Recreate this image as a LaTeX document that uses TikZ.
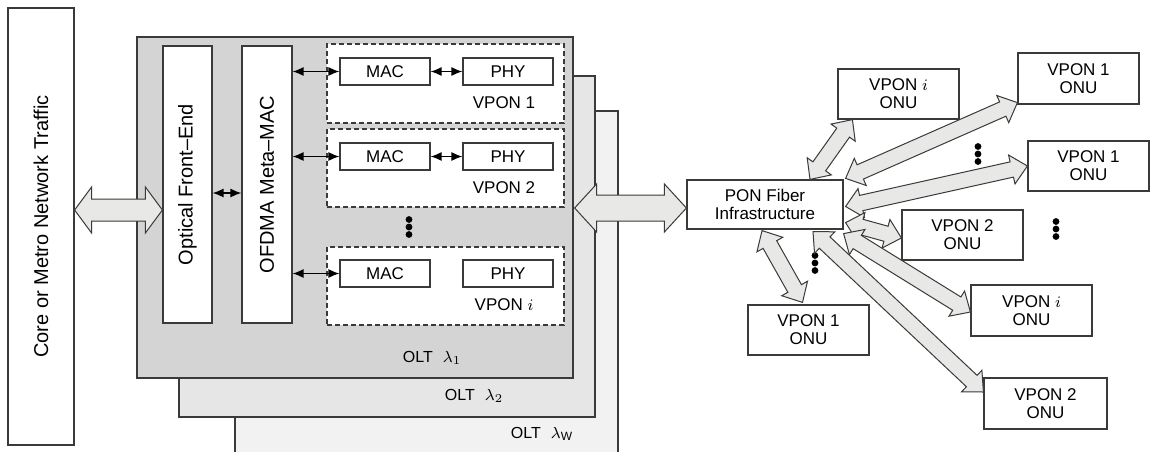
\documentclass[tikz,border=0pt]{standalone}
\usepackage{fontspec}
\setmainfont{Liberation Sans}
\usetikzlibrary{calc,arrows.meta}
\definecolor{edge}{HTML}{3A3A3A}
\definecolor{oltA}{HTML}{D4D4D4}
\definecolor{oltB}{HTML}{E6E6E6}
\definecolor{oltC}{HTML}{F2F2F2}
\definecolor{arrowfill}{HTML}{E8E8E6}
\newcommand\fatarrow[5]{%
  \coordinate (fa) at #1; \coordinate (fb) at #2;
  \draw[fat] (fa) -- ($(fa)!#3!(fb)!#4!90:(fb)$) -- ($(fa)!#3!(fb)!#5!90:(fb)$)
    -- ($(fb)!#3!(fa)!#5!-90:(fa)$) -- ($(fb)!#3!(fa)!#4!-90:(fa)$) -- (fb)
    -- ($(fb)!#3!(fa)!#4!90:(fa)$) -- ($(fb)!#3!(fa)!#5!90:(fa)$)
    -- ($(fa)!#3!(fb)!#5!-90:(fb)$) -- ($(fa)!#3!(fb)!#4!-90:(fb)$) -- cycle;}
\newcommand\threedots[1]{%
  \fill[black] ($#1+(0,-7.5)$) circle (1.7pt) #1 circle (1.7pt) ($#1+(0,7.5)$) circle (1.7pt);}
\tikzset{
  box/.style={draw=edge, line width=0.6pt, fill=white, inner sep=0pt},
  sz/.style 2 args={minimum width=#1*0.5pt, minimum height=#2*0.5pt},
  fat/.style={draw=edge, line width=0.5pt, fill=arrowfill},
  small/.style={{Latex[length=5.5pt,width=4.5pt]}-{Latex[length=5.5pt,width=4.5pt]}, line width=0.65pt, black},
  lbl/.style={font=\fontsize{8.5}{9}\selectfont, align=center, inner sep=0pt},
  big/.style={font=\fontsize{10}{12}\selectfont, inner sep=0pt},
  oltlbl/.style={font=\fontsize{8}{9}\selectfont, inner sep=0pt},
  vbox/.style={draw=edge, line width=0.6pt, fill=white, dash pattern=on 2.5pt off 1.5pt, inner sep=0pt}
}
\begin{document}
\begin{tikzpicture}[x=0.5pt,y=-0.5pt]
\useasboundingbox (0,0) rectangle (1150,451);
\fill[white] (0,0) rectangle (1150,451);

% core
\node[box, sz={66}{437}] (core) at (41,226.5) {};
\node[big, rotate=90] (coretxt) at (core.center) {Core or Metro Network Traffic};

% OLT stack
\node[box, fill=oltC, sz={383}{360}] (oltW) at (426.5,291) {};
\node[box, fill=oltB, sz={416}{341}] (olt2) at (387,246.5) {};
\node[box, fill=oltA, sz={436}{341}] (olt1) at (355,207.5) {};
\node[oltlbl] (l1) at (432,358) {OLT\hspace{5pt}$\lambda_1$};
\node[oltlbl] (l2) at (474,396) {OLT\hspace{5pt}$\lambda_2$};
\node[oltlbl] (lw) at (542,434) {OLT\hspace{5pt}$\lambda_{\mathrm{W}}$};

\node[box, sz={49}{277}] (ofe) at (187.5,184.5) {};
\node[big, rotate=90] (ofetxt) at (ofe.center) {Optical Front–End};
\node[box, sz={50}{277}] (meta) at (267,184.5) {};
\node[big, rotate=90] (metatxt) at (meta.center) {OFDMA Meta–MAC};

% VPON blocks
\node[vbox, sz={237}{79}] (v1) at (445.5,83.5) {};
\node[vbox, sz={237}{78}] (v2) at (445.5,168) {};
\node[vbox, sz={237}{78}] (vi) at (445.5,286) {};
\threedots{(409,227)}

\node[box, sz={90}{27}, lbl] (mac1) at (385,71.5) {MAC};
\node[box, sz={90}{27}, lbl] (phy1) at (508,71.5) {PHY};
\node[lbl] (t1) at (504,103) {VPON 1};
\node[box, sz={90}{27}, lbl] (mac2) at (385,156.5) {MAC};
\node[box, sz={90}{27}, lbl] (phy2) at (508,156.5) {PHY};
\node[lbl] (t2) at (504,188) {VPON 2};
\node[box, sz={90}{27}, lbl] (maci) at (385,273.5) {MAC};
\node[box, sz={90}{27}, lbl] (phyi) at (508,273.5) {PHY};
\node[lbl] (ti) at (504,305) {VPON $i$};

\draw[small] (ofe.east |- 0,193) -- (meta.west |- 0,193);
\draw[small] (meta.east |- mac1.west) -- (mac1.west);
\draw[small] (meta.east |- mac2.west) -- (mac2.west);
\draw[small] (meta.east |- maci.west) -- (maci.west);
\draw[small] (mac1.east) -- (phy1.west);
\draw[small] (mac2.east) -- (phy2.west);

% PON side
\node[box, sz={156}{49}, lbl] (pon) at (765,204.5) {PON Fiber\\Infrastructure};
\node[box, sz={121}{50}, lbl] (onuI1) at (898.5,94) {VPON $i$\\ONU};
\node[box, sz={121}{51}, lbl] (onu1a) at (1078.5,78.5) {VPON 1\\ONU};
\node[box, sz={121}{50}, lbl] (onu1b) at (1088.5,166) {VPON 1\\ONU};
\node[box, sz={121}{50}, lbl] (onu2a) at (962.5,235) {VPON 2\\ONU};
\node[box, sz={121}{51}, lbl] (onuI2) at (1031.5,310.5) {VPON $i$\\ONU};
\node[box, sz={123}{51}, lbl] (onu2b) at (1045.5,403.5) {VPON 2\\ONU};
\node[box, sz={121}{50}, lbl] (onu1c) at (808.5,330) {VPON 1\\ONU};
\threedots{(978,154)}
\threedots{(1056,229)}
\threedots{(815,263)}

% big arrows
\fatarrow{(core.east |- 0,210)}{(ofe.west |- 0,210)}{8.5pt}{11.5pt}{5.5pt}
\fatarrow{($(olt1.east |- 0,208)+(1,0)$)}{(pon.west |- 0,208)}{11pt}{12pt}{6.5pt}

% ONU arrows
\fatarrow{($(pon.north)+(45,0)$)}{($(onuI1.south west)+(15,0)$)}{8pt}{7.4pt}{3.9pt}
\fatarrow{($(pon.north east)+(2,-1)$)}{($(onu1a.south west)+(0,-2)$)}{8pt}{7.4pt}{3.9pt}
\fatarrow{($(pon.east)+(2,2)$)}{(onu1b.west)}{8pt}{7.4pt}{3.9pt}
\fatarrow{($(pon.south east)+(2,-7)$)}{($(onu2a.west)+(0,3)$)}{8pt}{7.4pt}{3.9pt}
\fatarrow{($(pon.south east)+(0,4)$)}{($(onuI2.west)+(0,1.5)$)}{8pt}{7.4pt}{3.9pt}
\fatarrow{($(pon.south)+(48,2)$)}{($(onu2b.west)+(0,-11.5)$)}{8pt}{7.4pt}{3.9pt}
\fatarrow{($(pon.south)+(-3,1)$)}{($(onu1c.north)+(-6,-2)$)}{8pt}{7.4pt}{3.9pt}
\end{tikzpicture}
\end{document}
